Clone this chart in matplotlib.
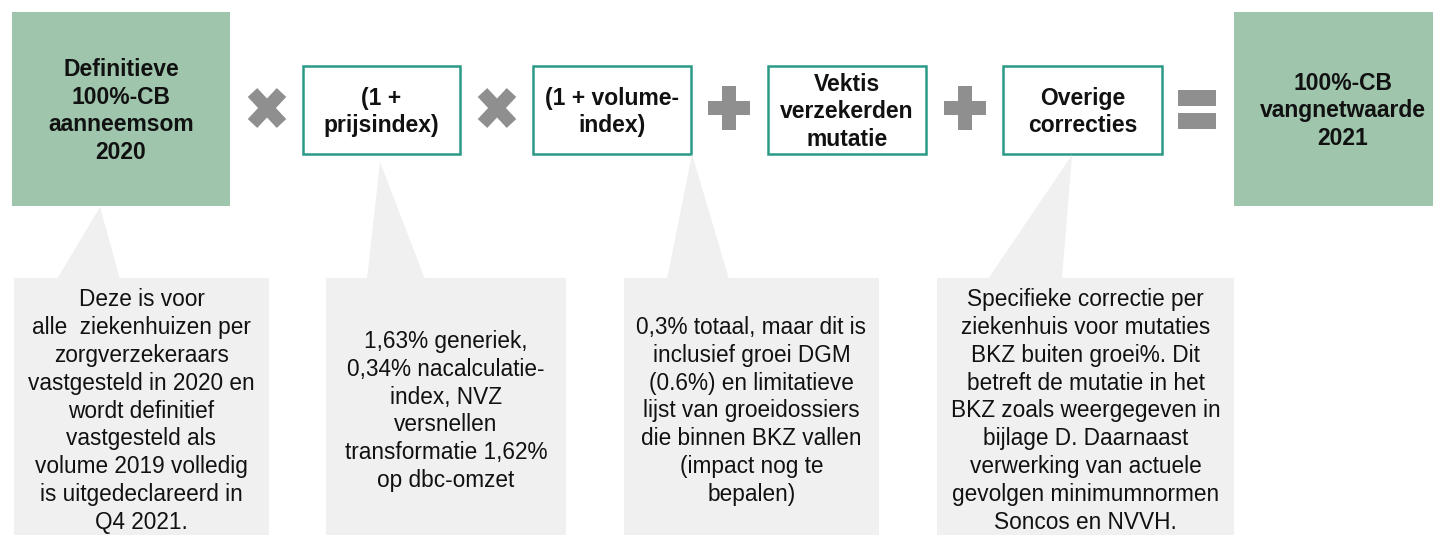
import matplotlib
matplotlib.use('Agg')
import numpy as np
import matplotlib.pyplot as plt
from matplotlib.patches import Rectangle, Polygon

plt.rcParams['font.family'] = ['Liberation Sans', 'DejaVu Sans']

# formula terms (top row) and the notes beneath them
terms = ['Definitieve\n100%-CB\naanneemsom\n2020',
         '(1 +\nprijsindex)',
         '(1 + volume-\nindex)',
         'Vektis\nverzekerden\nmutatie',
         'Overige\ncorrecties',
         '100%-CB\nvangnetwaarde\n2021']
operators = ['x', 'x', '+', '+', '=']
notes = ['Deze is voor\nalle  ziekenhuizen per\nzorgverzekeraars\nvastgesteld in 2020 en\n'
         'wordt definitief\nvastgesteld als\nvolume 2019 volledig\nis uitgedeclareerd in\nQ4 2021.',
         '1,63% generiek,\n0,34% nacalculatie-\nindex, NVZ\nversnellen\ntransformatie 1,62%\nop dbc-omzet',
         '0,3% totaal, maar dit is\ninclusief groei DGM\n(0.6%) en limitatieve\nlijst van groeidossiers\n'
         'die binnen BKZ vallen\n(impact nog te\nbepalen)',
         'Specifieke correctie per\nziekenhuis voor mutaties\nBKZ buiten groei%. Dit\nbetreft de mutatie in het\n'
         'BKZ zoals weergegeven in\nbijlage D. Daarnaast\nverwerking van actuele\ngevolgen minimumnormen\nSoncos en NVVH.']

green = '#9fc5ad'
teal = '#2a9a86'
grey = '#8f8f8f'
light = '#f0f0f0'

# layout in pixels
term_x = [(12, 230), (303, 460), (533, 691), (768, 926), (1003, 1162), (1234, 1433)]
op_x = [267, 497, 729, 965, 1197]
note_x = [(14, 269), (326, 566), (624, 879), (937, 1234)]
ptr = [(100, 207, 57, 120), (380, 162, 367, 425), (692, 154, 667, 729), (1072, 155, 988, 1062)]


def arm(p1, p2, t):
    p1, p2 = np.array(p1, float), np.array(p2, float)
    d = (p2 - p1) / np.linalg.norm(p2 - p1)
    n = np.array([-d[1], d[0]]) * t / 2
    return [p1 + n, p2 + n, p2 - n, p1 - n]


fig = plt.figure(figsize=(14.33, 5.35), dpi=100)
ax = fig.add_axes([0, 0, 1, 1])
ax.set_xlim(0, 1433)
ax.set_ylim(535, 0)
ax.axis('off')

for i, (x0, x1) in enumerate(term_x):
    if i in (0, 5):
        ax.add_patch(Rectangle((x0, 12), x1 - x0, 194, facecolor=green, edgecolor='none'))
        y0, y1 = 12, 206
    else:
        ax.add_patch(Rectangle((x0, 66), x1 - x0, 88, facecolor='white', edgecolor=teal, lw=1.8))
        y0, y1 = 66, 154
    cx = (x0 + x1) / 2 if i != 5 else 1343
    ax.text(cx, (y0 + y1) / 2 + 2, terms[i], ha='center', va='center', fontsize=16.5,
            fontweight='bold', linespacing=1.26, color='#111111')

cy = 108
for op, cx in zip(operators, op_x):
    if op == 'x':
        a, b = 14.5, 15.5
        ax.add_patch(Polygon(arm((cx - a, cy - b), (cx + a, cy + b), 13), facecolor=grey, edgecolor='none'))
        ax.add_patch(Polygon(arm((cx + a, cy - b), (cx - a, cy + b), 13), facecolor=grey, edgecolor='none'))
    elif op == '+':
        ax.add_patch(Rectangle((cx - 21, cy - 7), 42, 14, facecolor=grey, edgecolor='none'))
        ax.add_patch(Rectangle((cx - 7, cy - 22), 14, 44, facecolor=grey, edgecolor='none'))
    else:
        ax.add_patch(Rectangle((cx - 19, 90), 38, 16, facecolor=grey, edgecolor='none'))
        ax.add_patch(Rectangle((cx - 19, 113), 38, 16, facecolor=grey, edgecolor='none'))

for (x0, x1), (px, py, b0, b1), txt in zip(note_x, ptr, notes):
    ax.add_patch(Polygon([(px, py), (b0, 279), (b1, 279)], closed=True,
                         facecolor=light, edgecolor='none'))
    ax.add_patch(Rectangle((x0, 278), x1 - x0, 260, facecolor=light, edgecolor='none'))
    ax.text((x0 + x1) / 2, 411, txt, ha='center', va='center', fontsize=16.3,
            linespacing=1.27, color='#111111')

fig.savefig('out.png', dpi=100, facecolor='white')
